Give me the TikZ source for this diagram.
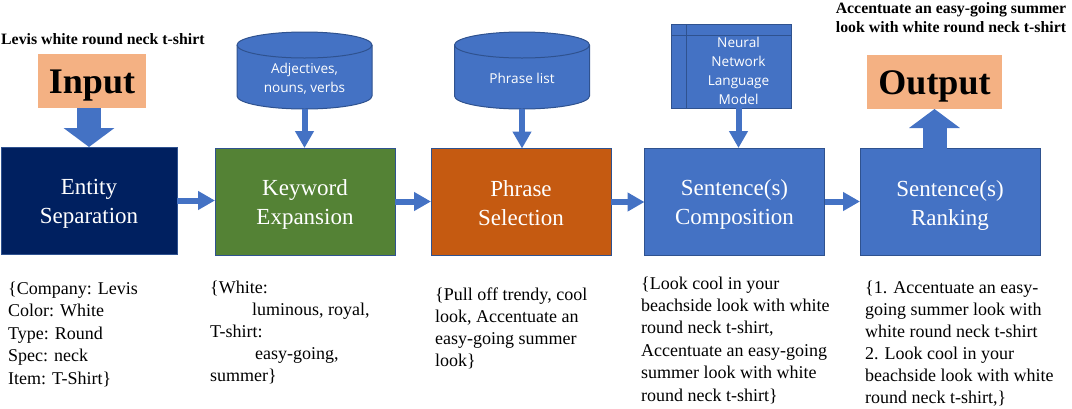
\documentclass[tikz,border=0pt]{standalone}
\usepackage{fontspec}
\setmainfont{Liberation Serif}
\newfontfamily\labelfont{Open Sans}
\usepackage[svgnames]{xcolor}
\usetikzlibrary{arrows.meta}

\definecolor{navybox}{HTML}{002060}
\definecolor{greenbox}{HTML}{548235}
\definecolor{orangebox}{HTML}{C55A11}
\definecolor{bluebox}{HTML}{4472C4}
\definecolor{peachbox}{HTML}{F4B183}
\definecolor{edgeblue}{HTML}{2F528F}

\tikzset{
    stage/.style={draw=edgeblue, line width=1pt, outer sep=0pt, inner sep=0pt, minimum width=180pt, minimum height=107pt,
        text=white, align=center, text height=46pt, text depth=0pt, font=\fontsize{23}{29}\selectfont},
    inout/.style={fill=peachbox, outer sep=0pt, inner sep=0pt, minimum height=54pt, text height=25pt, text depth=0pt,
        font=\bfseries\fontsize{36}{40}\selectfont},
    store/.style={draw=edgeblue, line width=1pt, fill=bluebox},
    storetext/.style={text=white, align=center, inner sep=0pt, font=\labelfont\fontsize{13.6}{19}\selectfont},
    listing/.style={anchor=north west, inner sep=0pt, align=left, font=\fontsize{18}{22.1}\selectfont},
    caption/.style={inner sep=0pt, align=center, font=\bfseries\fontsize{15.8}{19}\selectfont},
    flow/.style={bluebox, line width=6pt, -{Triangle[length=17pt,width=18pt]}},
    bigflow/.style={bluebox, line width=24pt, -{Triangle[length=19pt,width=50pt]}},
}

\begin{document}
\begin{tikzpicture}[x=1pt,y=-1pt]
    \useasboundingbox (0,0) rectangle (1072,408);

    % Stages
    \node[stage, fill=navybox, minimum width=176pt] (entity) at (89,200.5) {Entity\\Separation};
    \node[stage, fill=greenbox] (keyword) at (305,201.5) {Keyword\\Expansion};
    \node[stage, fill=orangebox] (phrase) at (521,202) {Phrase\\Selection};
    \node[stage, fill=bluebox] (composition) at (734.5,201.5) {Sentence(s)\\Composition};
    \node[stage, fill=bluebox] (ranking) at (950,202) {Sentence(s)\\Ranking};

    % Input and output
    \node[inout, minimum width=108pt] (input) at (92,81) {Input};
    \node[inout, minimum width=135pt] (output) at (934.5,82) {Output};
    \node[caption, anchor=base west] (inputcap) at (1,44) {Levis white round neck t-shirt};
    \node[caption, anchor=north] (outputcap) at (951,2) {Accentuate an easy-going summer\\look with white round neck t-shirt};

    % Stores
    \foreach \x/\name in {304.5/adjstore, 522/phrasestore} {
        \draw[store] (\x-67.5,45) -- (\x-67.5,96) arc[start angle=180, end angle=360, x radius=67.5pt, y radius=13pt]
            -- (\x+67.5,45) arc[start angle=0, end angle=180, x radius=67.5pt, y radius=13pt] -- cycle;
        \draw[store, fill=none] (\x-67.5,45) arc[start angle=180, end angle=360, x radius=67.5pt, y radius=13pt];
        \coordinate (\name) at (\x,109);
    }
    \node[storetext] (adjtext) at (304.5,78.5) {Adjectives,\\nouns, verbs};
    \node[storetext] (phrasetext) at (522,78) {Phrase list};

    % Model table
    \node[draw=edgeblue, line width=1pt, fill=bluebox, outer sep=0pt, minimum width=120pt, minimum height=84pt] (model) at (731,66) {};
    \draw[edgeblue, line width=1pt] ([xshift=15pt]model.north west) -- ([xshift=15pt]model.south west);
    \draw[edgeblue, line width=1pt] ([yshift=-11pt]model.north west) -- ([yshift=-11pt]model.north east);
    \node[storetext] (modeltext) at (738.5,71) {Neural\\Network\\Language\\Model};

    % Arrows
    \draw[bigflow] (entity.north |- input.south) -- (entity.north);
    \draw[bigflow] (output.south |- ranking.north) -- (output.south);
    \draw[flow] (adjstore) -- (adjstore |- keyword.north);
    \draw[flow] (phrasestore) -- (phrasestore |- phrase.north);
    \draw[flow] (modeltext.south |- model.south) -- (modeltext.south |- composition.north);
    \draw[flow] (entity.east) -- (entity.east -| keyword.west);
    \draw[flow] (keyword.east) -- (keyword.east -| phrase.west);
    \draw[flow] (phrase.east) -- (phrase.east -| composition.west);
    \draw[flow] (composition.east) -- (composition.east -| ranking.west);

    % Listings
    \node[listing, font=\fontsize{18}{22.5}\selectfont] (entitylist) at (8,281.5) {\{Company: Levis\\Color: White\\Type: Round\\Spec: neck\\Item: T-Shirt\}};
    \node[listing] (keywordlist) at (210,280.5) {\{White:\\\hspace*{42pt}luminous, royal,\\T-shirt:\\\hspace*{45pt}easy-going,\\summer\}};
    \node[listing] (phraselist) at (435,287.5) {\{Pull off trendy, cool\\look, Accentuate an\\easy-going summer\\look\}};
    \node[listing, font=\fontsize{18}{22.4}\selectfont] (complist) at (641,276.5) {\{Look cool in your\\beachside look with white\\round neck t-shirt,\\Accentuate an easy-going\\summer look with white\\round neck t-shirt\}};
    \node[listing] (ranklist) at (865,280.5) {\{1. Accentuate an easy-\\going summer look with\\white round neck t-shirt\\2. Look cool in your\\beachside look with white\\round neck t-shirt,\}};
\end{tikzpicture}
\end{document}
